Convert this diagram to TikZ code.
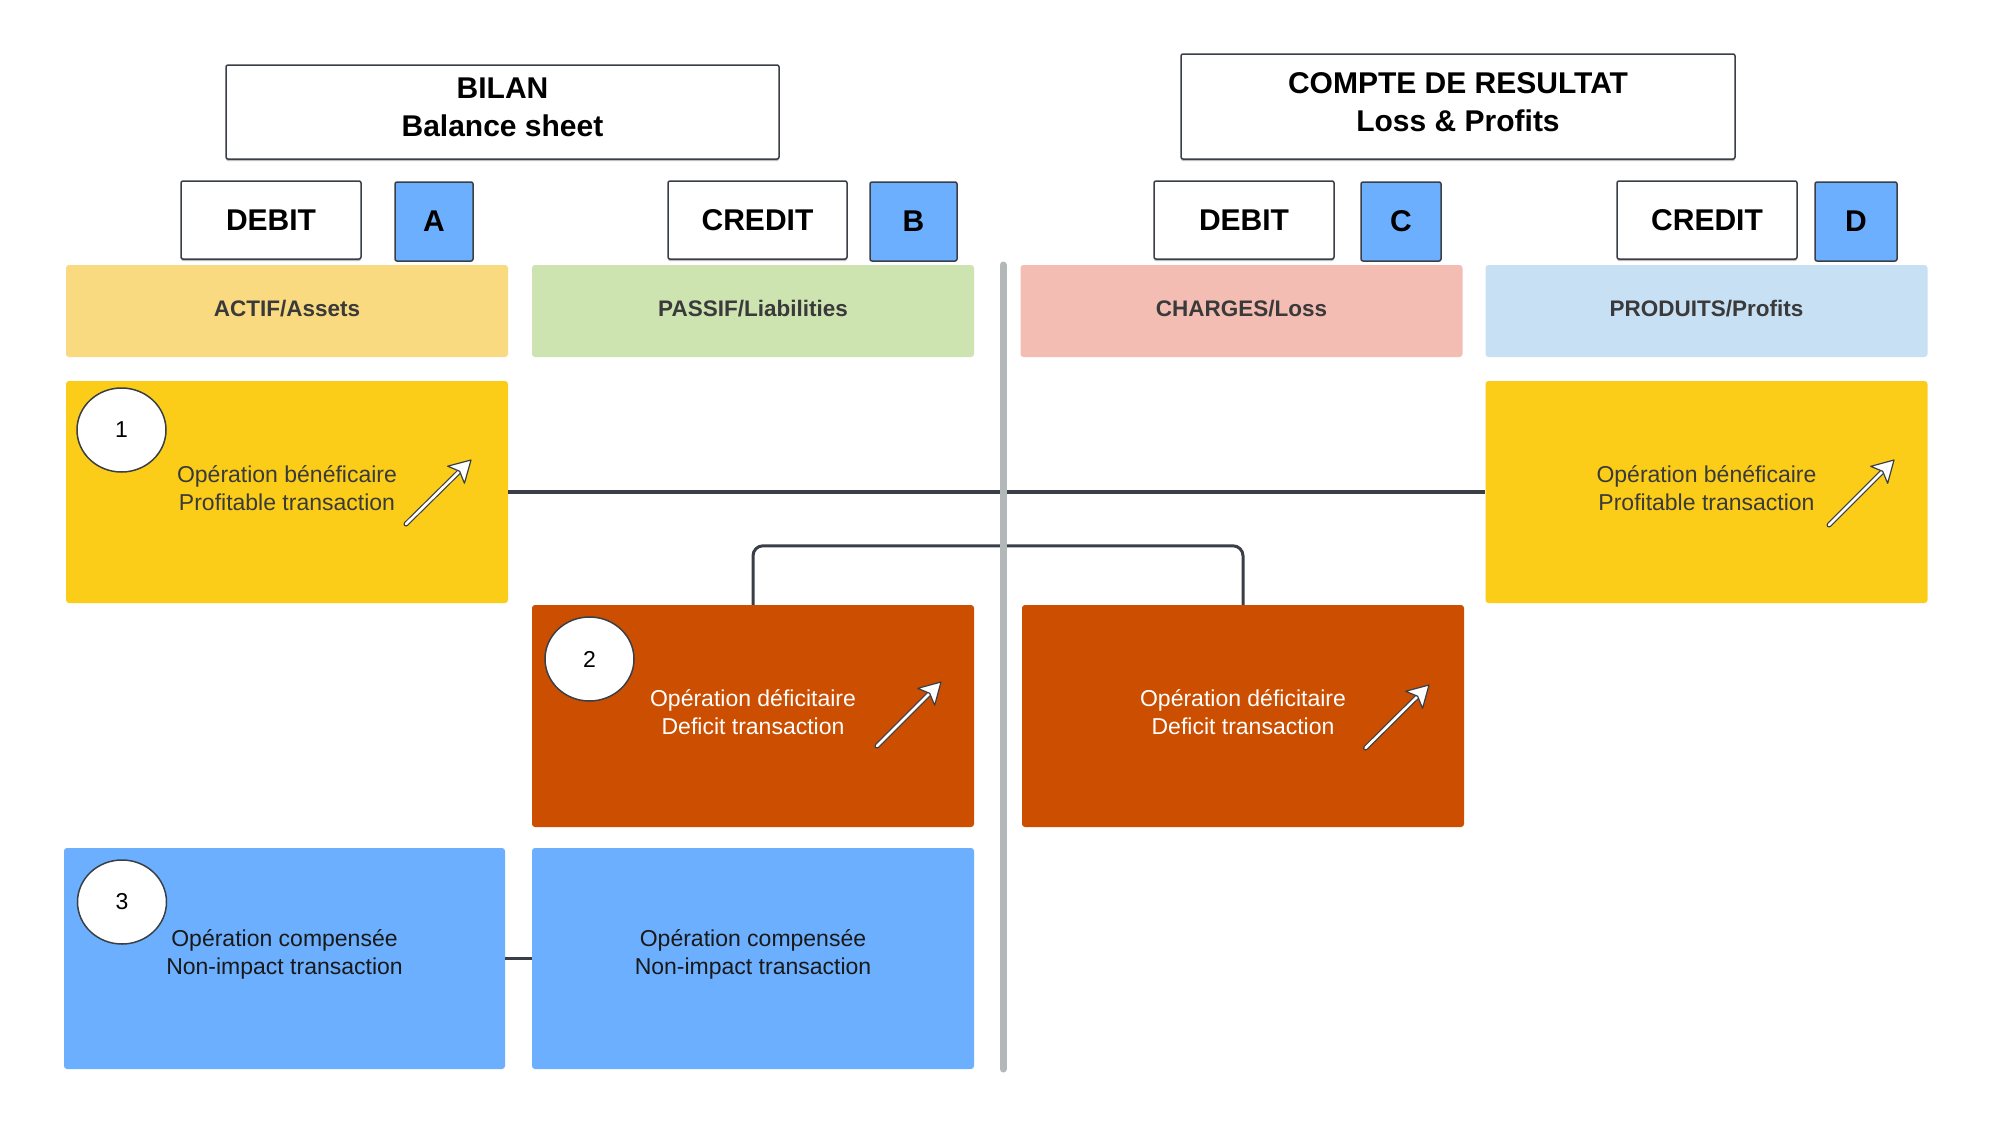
\documentclass[tikz,border=0pt]{standalone}
\usepackage{fontspec}
\setmainfont{Liberation Sans}
\usetikzlibrary{calc,shapes.geometric,shadows}
\definecolor{edge}{HTML}{3A3F47}
\definecolor{hdrY}{HTML}{F9DA80}
\definecolor{hdrG}{HTML}{CDE4B1}
\definecolor{hdrP}{HTML}{F4BDB3}
\definecolor{hdrB}{HTML}{C8E0F4}
\definecolor{opY}{HTML}{FBCD18}
\definecolor{opO}{HTML}{CC4E00}
\definecolor{opB}{HTML}{6CAFFE}
\definecolor{sepgray}{HTML}{B2B8B8}
\definecolor{txtgray}{HTML}{3A3A3A}
\newcommand{\hollowarrow}[2]{%
  \coordinate (ha-tail) at #1;
  \coordinate (ha-tip) at #2;
  \coordinate (ha-base) at ($(ha-tip)!21pt!(ha-tail)$);
  \coordinate (ha-notch) at ($(ha-tip)!16pt!(ha-tail)$);
  \draw[line width=5pt, draw=edge, line cap=round] (ha-tail) -- (ha-notch);
  \draw[line width=2.6pt, draw=white, line cap=round] (ha-tail) -- (ha-notch);
  \filldraw[fill=white, draw=edge, line width=1.2pt, line join=round]
    (ha-tip) -- ($(ha-base)!12pt!90:(ha-tip)$) -- (ha-notch) -- ($(ha-base)!12pt!-90:(ha-tip)$) -- cycle;
}
\begin{document}
\begin{tikzpicture}[x=1pt,y=-1pt,
  titlebox/.style={draw=edge, line width=1.5pt, rounded corners=2pt, fill=white, inner sep=0pt,
    drop shadow={shadow xshift=0pt, shadow yshift=-2pt, opacity=0.25, fill=black}},
  titletext/.style={align=center, inner sep=0pt, font=\fontsize{30}{38}\selectfont\bfseries},
  tagbox/.style={draw=edge, line width=1.5pt, rounded corners=2pt, fill=white, inner sep=0pt,
    minimum height=78pt, font=\fontsize{30}{36}\selectfont\bfseries,
    drop shadow={shadow xshift=0pt, shadow yshift=-2pt, opacity=0.25, fill=black}},
  letterbox/.style={draw=edge, line width=1.5pt, rounded corners=2pt, fill=opB, inner sep=0pt,
    minimum height=79pt, font=\fontsize{30}{36}\selectfont\bfseries},
  hdr/.style={fill=#1, rounded corners=3pt, inner sep=0pt, minimum width=442pt, minimum height=92pt},
  hdrtext/.style={inner sep=0pt, text=txtgray, font=\fontsize{22.5}{27}\selectfont\bfseries},
  opbox/.style={fill=#1, rounded corners=3pt, inner sep=0pt, minimum width=442pt, minimum height=222pt},
  optext/.style={align=center, inner sep=0pt, font=\fontsize{23}{28}\selectfont},
  numcirc/.style={ellipse, draw=edge, line width=1.5pt, fill=white, inner sep=0pt,
    minimum width=89pt, minimum height=84pt, font=\fontsize{23}{26}\selectfont},
  conn/.style={draw=edge, line width=3pt},
]
\useasboundingbox (0,0) rectangle (2000,1127);
\fill[white] (0,0) rectangle (2000,1127);

% titles
\node[titlebox, minimum width=553pt, minimum height=94pt] (bilan) at (502.5,112) {};
\node[titletext] (bilanT) at ([yshift=5pt]bilan.center) {BILAN\\Balance sheet};
\node[titlebox, minimum width=554pt, minimum height=105pt] (compte) at (1458,106.5) {};
\node[titletext] (compteT) at ([yshift=4pt]compte.center) {COMPTE DE RESULTAT\\Loss \& Profits};

% tags
\node[tagbox, minimum width=180pt] (deb1) at (271,220) {DEBIT};
\node[letterbox, minimum width=78pt] (la) at (434,221.5) {A};
\node[tagbox, minimum width=179pt] (cre1) at (757.5,220) {CREDIT};
\node[letterbox, minimum width=87pt] (lb) at (913.5,221.5) {B};
\node[tagbox, minimum width=180pt] (deb2) at (1244,220) {DEBIT};
\node[letterbox, minimum width=80pt] (lc) at (1401,221.5) {C};
\node[tagbox, minimum width=180pt] (cre2) at (1707,220) {CREDIT};
\node[letterbox, minimum width=82pt] (ld) at (1856,221.5) {D};

% headers
\node[hdr=hdrY] (actif) at (287,311) {};
\node[hdrtext] (actifT) at ([yshift=2.5pt]actif.center) {ACTIF/Assets};
\node[hdr=hdrG] (passif) at (753,311) {};
\node[hdrtext] (passifT) at ([yshift=2.5pt]passif.center) {PASSIF/Liabilities};
\node[hdr=hdrP] (charges) at (1241.5,311) {};
\node[hdrtext] (chargesT) at ([yshift=2.5pt]charges.center) {CHARGES/Loss};
\node[hdr=hdrB] (produits) at (1706.5,311) {};
\node[hdrtext] (produitsT) at ([yshift=2.5pt]produits.center) {PRODUITS/Profits};

% operation boxes
\node[opbox=opY] (y1) at (287,492) {};
\node[opbox=opY] (yr) at (1706.5,492) {};
\node[opbox=opO] (o2) at (753,716) {};
\node[opbox=opO] (or) at (1243,716) {};
\node[opbox=opB, minimum height=221pt, minimum width=441pt] (b3) at (284.5,958.5) {};
\node[opbox=opB, minimum height=221pt] (br) at (753,958.5) {};

% connectors
\draw[conn, line width=3.5pt] (y1.east) -- (yr.west);
\draw[conn, rounded corners=10pt] (o2.north) -- ++(0,-59) -| (or.north);
\draw[conn] (b3.east) -- (br.west);

% separator
\coordinate (sepTop) at (1003,265);
\coordinate (sepBot) at (1003,1069);
\draw[sepgray, line width=7pt, line cap=round] (sepTop) -- (sepBot);

% texts
\node[optext, text=txtgray] (y1T) at ([yshift=4pt]y1.center) {Opération bénéficaire\\Profitable transaction};
\node[optext, text=txtgray] (yrT) at ([yshift=4pt]yr.center) {Opération bénéficaire\\Profitable transaction};
\node[optext, text=white] (o2T) at ([yshift=4pt]o2.center) {Opération déficitaire\\Deficit transaction};
\node[optext, text=white] (orT) at ([yshift=4pt]or.center) {Opération déficitaire\\Deficit transaction};
\node[optext, text=black!90] (b3T) at ([yshift=4pt]b3.center) {Opération compensée\\Non-impact transaction};
\node[optext, text=black!90] (brT) at ([yshift=4pt]br.center) {Opération compensée\\Non-impact transaction};

% number circles
\node[numcirc] (n1) at (121.5,430) {1};
\node[numcirc] (n2) at (589.5,659) {2};
\node[numcirc] (n3) at (122,902) {3};

% arrows
\hollowarrow{(406,524)}{(471,460)}
\hollowarrow{(1829,525)}{(1894,460)}
\hollowarrow{(877,746)}{(941,682)}
\hollowarrow{(1365.5,748)}{(1429,685)}
\end{tikzpicture}
\end{document}
